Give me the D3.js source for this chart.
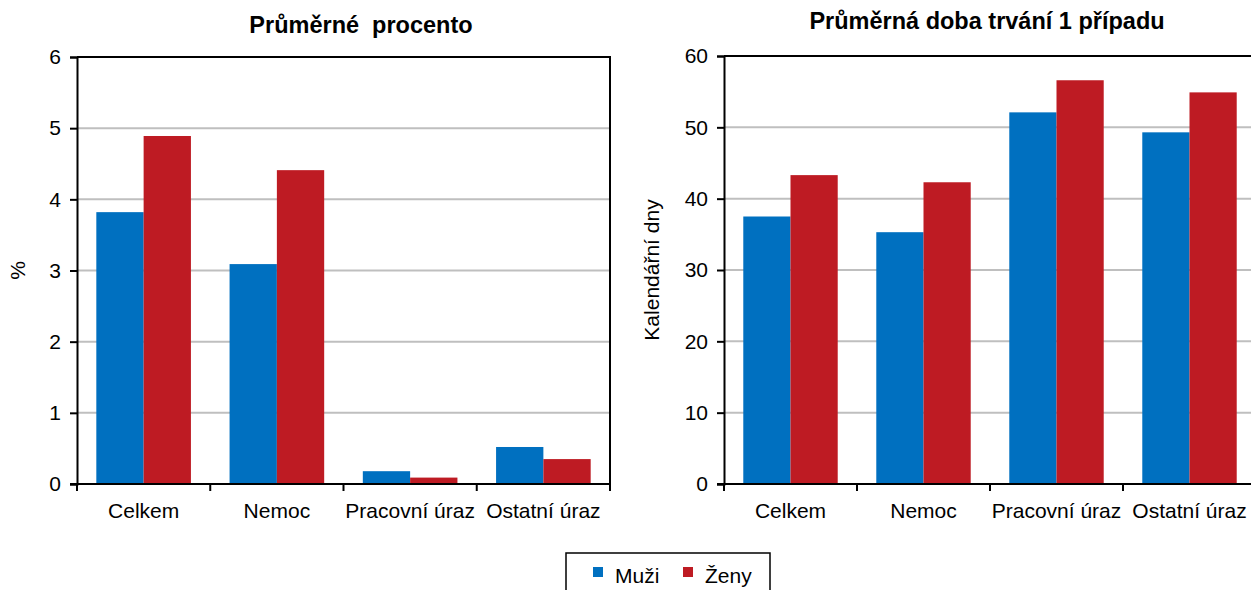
<!DOCTYPE html>
<html>
<head>
<meta charset="utf-8">
<script src="https://cdn.jsdelivr.net/npm/d3@7"></script>
<style>
  body { margin: 0; background: #fff; }
  svg { display: block; }
  .grid line { stroke: #bfbfbf; stroke-width: 2; }
</style>
</head>
<body>
<svg id="chart" width="1251" height="590"></svg>
<script>
const categories = ['Celkem', 'Nemoc', 'Pracovní úraz', 'Ostatní úraz']
const seriesNames = ['Muži', 'Ženy']
const seriesColors = ['#0070c0', '#be1b23']

// Průměrné procento (%)
const procentoMuzi = [3.82, 3.09, 0.18, 0.52]
const procentoZeny = [4.89, 4.41, 0.09, 0.35]
const procentoTicks = [0, 1, 2, 3, 4, 5, 6]

// Průměrná doba trvání 1 případu (kalendářní dny)
const dobaMuzi = [37.5, 35.3, 52.1, 49.3]
const dobaZeny = [43.3, 42.3, 56.6, 54.9]
const dobaTicks = [0, 10, 20, 30, 40, 50, 60]

const FONT = "'Liberation Sans', Arial, sans-serif"
const LABEL_SIZE = 21
const TITLE_SIZE = 23.5

const svg = d3.select('#chart')

function label (sel) {
  return sel.attr('font-family', FONT).attr('font-size', LABEL_SIZE).attr('fill', '#000')
}

function drawPanel (opts) {
  const { left, right, top, bottom, title, titleX, titleY, yLabel, yLabelX, ticks, muzi, zeny } = opts
  const g = svg.append('g')

  const x = d3.scaleBand().domain(categories).range([left, right])
    .paddingInner(0.29).paddingOuter(0.145)
  const xSeries = d3.scaleBand().domain(seriesNames).range([0, x.bandwidth()])
  const y = d3.scaleLinear().domain([0, d3.max(ticks)]).range([bottom, top])

  // gridlines (top one is the frame)
  g.append('g').attr('class', 'grid')
    .selectAll('line')
    .data(ticks.slice(1, -1))
    .join('line')
    .attr('x1', left).attr('x2', right)
    .attr('y1', d => y(d)).attr('y2', d => y(d))

  const rows = categories.map((c, i) => ({ cat: c, values: [muzi[i], zeny[i]] }))

  g.append('g')
    .selectAll('g')
    .data(rows)
    .join('g')
    .attr('transform', d => `translate(${x(d.cat)},0)`)
    .selectAll('rect')
    .data(d => d.values.map((v, i) => ({ name: seriesNames[i], value: v, color: seriesColors[i] })))
    .join('rect')
    .attr('x', d => xSeries(d.name))
    .attr('width', xSeries.bandwidth())
    .attr('y', d => y(d.value))
    .attr('height', d => y(0) - y(d.value))
    .attr('fill', d => d.color)

  // frame: top and right
  g.append('path')
    .attr('d', `M${left},${top}H${right}V${bottom}`)
    .attr('fill', 'none').attr('stroke', '#000').attr('stroke-width', 2)

  // y axis
  const yAxis = g.append('g')
    .attr('transform', `translate(${left},0)`)
    .call(d3.axisLeft(y).tickValues(ticks).tickSize(7).tickPadding(9).tickFormat(d3.format('d')))
  yAxis.select('.domain').attr('stroke-width', 2)
  yAxis.selectAll('.tick line').attr('stroke-width', 2)
  yAxis.attr('font-family', FONT).attr('font-size', LABEL_SIZE)
  yAxis.selectAll('text').attr('fill', '#000')

  // x axis with ticks between categories
  const xAxis = g.append('g')
  xAxis.append('line')
    .attr('x1', left - 7).attr('x2', right)
    .attr('y1', bottom).attr('y2', bottom)
    .attr('stroke', '#000').attr('stroke-width', 2)
  const step = x.step()
  xAxis.selectAll('line.sep')
    .data(d3.range(categories.length + 1))
    .join('line')
    .attr('class', 'sep')
    .attr('x1', i => left + i * step).attr('x2', i => left + i * step)
    .attr('y1', bottom).attr('y2', bottom + 7)
    .attr('stroke', '#000').attr('stroke-width', 2)
  xAxis.selectAll('text')
    .data(categories)
    .join('text')
    .call(label)
    .attr('x', d => x(d) + x.bandwidth() / 2)
    .attr('y', bottom + 34)
    .attr('text-anchor', 'middle')
    .text(d => d)

  g.append('text')
    .attr('font-family', FONT).attr('font-size', TITLE_SIZE).attr('font-weight', 'bold')
    .style('white-space', 'pre')
    .attr('x', titleX).attr('y', titleY)
    .attr('text-anchor', 'middle')
    .text(title)

  g.append('text')
    .call(label)
    .attr('transform', `translate(${yLabelX},${(top + bottom) / 2}) rotate(-90)`)
    .attr('text-anchor', 'middle')
    .text(yLabel)
}

drawPanel({
  left: 77, right: 610, top: 57, bottom: 484,
  title: 'Průměrné  procento', titleX: 361, titleY: 33,
  yLabel: '%', yLabelX: 25, ticks: procentoTicks,
  muzi: procentoMuzi, zeny: procentoZeny
})

drawPanel({
  left: 724, right: 1256, top: 56, bottom: 484,
  title: 'Průměrná doba trvání 1 případu', titleX: 987, titleY: 29,
  yLabel: 'Kalendářní dny', yLabelX: 659, ticks: dobaTicks,
  muzi: dobaMuzi, zeny: dobaZeny
})

// legend
const legend = svg.append('g')
legend.append('rect')
  .attr('x', 566).attr('y', 553).attr('width', 204).attr('height', 45)
  .attr('fill', '#fff').attr('stroke', '#000').attr('stroke-width', 1.5)
const legendX = [593, 683]
const items = legend.selectAll('g.item')
  .data(seriesNames)
  .join('g')
  .attr('class', 'item')
  .attr('transform', (d, i) => `translate(${legendX[i]},567)`)
items.append('rect')
  .attr('width', 10).attr('height', 10)
  .attr('fill', (d, i) => seriesColors[i])
items.append('text')
  .call(label)
  .attr('x', 22).attr('y', 16)
  .text(d => d)
</script>
</body>
</html>
